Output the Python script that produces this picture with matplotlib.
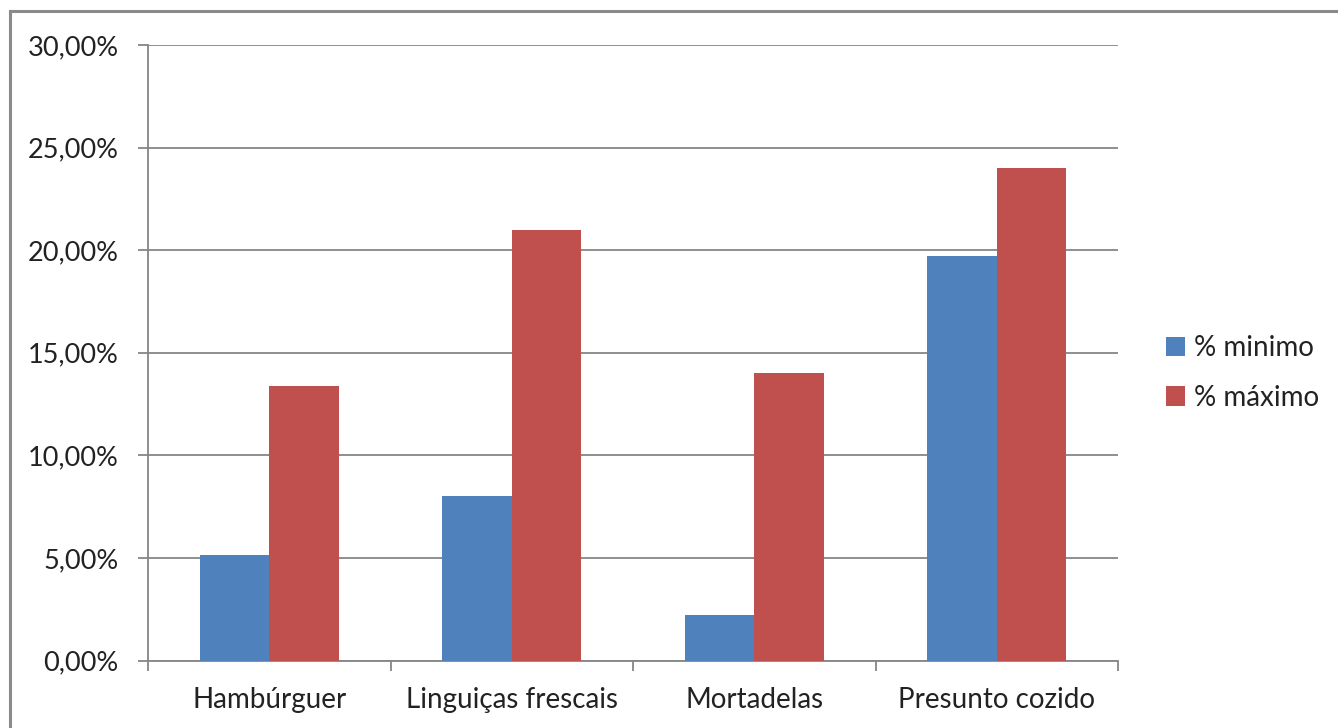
import matplotlib
matplotlib.use("Agg")
import matplotlib.pyplot as plt
from matplotlib.lines import Line2D
from matplotlib.patches import Patch
from matplotlib.ticker import FuncFormatter
import numpy as np

categories = ["Hambúrguer", "Linguiças frescais", "Mortadelas", "Presunto cozido"]
pct_min = [5.15, 8.0, 2.2, 19.7]
pct_max = [13.4, 21.0, 14.0, 24.0]
series_names = ["% minimo", "% máximo"]
y_ticks = [0, 5, 10, 15, 20, 25, 30]

BLUE = "#4F81BD"
RED = "#C0504D"
GRID = "#868686"

plt.rcParams["font.family"] = ["Lato", "DejaVu Sans"]

fig = plt.figure(figsize=(13.38, 7.28), dpi=100)
ax = fig.add_axes([148 / 1338, 1 - 660.5 / 728, 970 / 1338, 615.5 / 728])

x = np.arange(len(categories))
width = 1 / 3.5
ax.bar(x - width / 2, pct_min, width, color=BLUE, zorder=3, label=series_names[0])
ax.bar(x + width / 2, pct_max, width, color=RED, zorder=3, label=series_names[1])

ax.set_xlim(-0.5, len(categories) - 0.5)
ax.set_ylim(0, 30)
ax.set_yticks(y_ticks)
ax.yaxis.set_major_formatter(FuncFormatter(lambda v, _: f"{v:.2f}%".replace(".", ",")))
ax.set_xticks(x)
ax.set_xticklabels(categories)
ax.set_xticks(np.arange(-0.5, len(categories)), minor=True)

ax.grid(axis="y", color=GRID, linewidth=1.3, zorder=0)
for side in ("top", "right"):
    ax.spines[side].set_visible(False)
for side in ("left", "bottom"):
    ax.spines[side].set_color(GRID)
    ax.spines[side].set_linewidth(1.3)

ax.tick_params(axis="y", direction="out", length=7, width=1.3, color=GRID,
               pad=14, labelsize=19.5, labelcolor="#222222")
ax.tick_params(axis="x", which="major", length=0, pad=19, labelsize=20,
               labelcolor="#222222")
ax.tick_params(axis="x", which="minor", direction="out", length=7, width=1.3,
               color=GRID)

handles = [Patch(facecolor=BLUE), Patch(facecolor=RED)]
leg = fig.legend(handles, series_names, loc="center left",
                 bbox_to_anchor=(1141 / 1338, 1 - 373 / 728), frameon=False,
                 fontsize=20, handlelength=0.7, handleheight=0.7,
                 handletextpad=0.3, labelspacing=0.85)
for t in leg.get_texts():
    t.set_color("#222222")

# outer frame of the chart area
fig.add_artist(Line2D([10 / 1338, 1], [1 - 11 / 728, 1 - 11 / 728],
                      transform=fig.transFigure, color="#8a8a8a", linewidth=2.2))
fig.add_artist(Line2D([10 / 1338, 10 / 1338], [0, 1 - 11 / 728],
                      transform=fig.transFigure, color="#8a8a8a", linewidth=2.2))

fig.savefig("out.png", dpi=100, facecolor="white")
